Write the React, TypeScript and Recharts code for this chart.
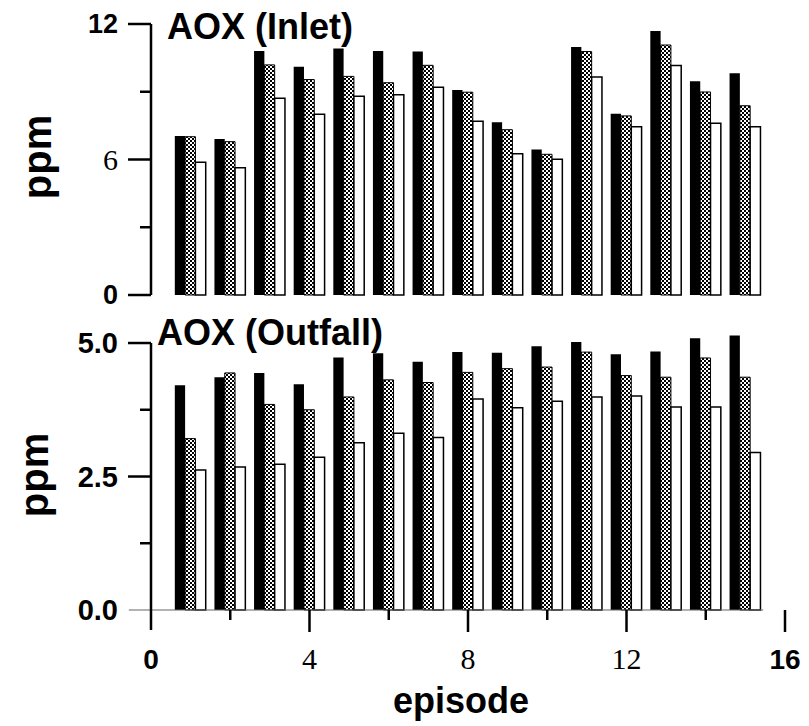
import React from "react";
import { BarChart, Bar, XAxis, YAxis, ReferenceLine } from "recharts";

const SANS = '"Liberation Sans", Arial, Helvetica, sans-serif';
const SERIF = '"Liberation Serif", "Times New Roman", serif';

const episodes = [1, 2, 3, 4, 5, 6, 7, 8, 9, 10, 11, 12, 13, 14, 15];

// AOX (Inlet), ppm
const inletBlack = [7.04, 6.91, 10.8, 10.11, 10.91, 10.8, 10.78, 9.08, 7.65, 6.44, 10.98, 8.03, 11.69, 9.46, 9.82];
const inletHatched = [7.01, 6.79, 10.19, 9.54, 9.68, 9.4, 10.17, 8.98, 7.32, 6.23, 10.78, 7.93, 11.07, 8.99, 8.38];
const inletWhite = [5.88, 5.64, 8.71, 8.0, 8.8, 8.87, 9.2, 7.69, 6.26, 6.01, 9.65, 7.45, 10.16, 7.6, 7.45];

// AOX (Outfall), ppm
const outfallBlack = [4.21, 4.36, 4.44, 4.23, 4.73, 4.81, 4.65, 4.83, 4.82, 4.94, 5.02, 4.79, 4.84, 5.09, 5.14];
const outfallHatched = [3.21, 4.44, 3.85, 3.75, 3.99, 4.31, 4.26, 4.45, 4.52, 4.55, 4.83, 4.39, 4.36, 4.72, 4.36];
const outfallWhite = [2.62, 2.68, 2.73, 2.86, 3.13, 3.31, 3.23, 3.95, 3.79, 3.91, 3.99, 4.01, 3.8, 3.8, 2.95];

const inletTicks = [0, 3, 6, 9, 12];
const inletTickLabels = ["0", "", "6", "", "12"];
const outfallTicks = [0, 1.25, 2.5, 3.75, 5];
const outfallTickLabels = ["0.0", "", "2.5", "", "5.0"];
const xTicks = [0, 2, 4, 6, 8, 10, 12, 14, 16];
const xTickLabels = ["0", "", "4", "", "8", "", "12", "", "16"];

const inletData = episodes.map((ep, i) => ({
  ep,
  black: inletBlack[i],
  hatched: inletHatched[i],
  white: inletWhite[i],
}));
const outfallData = episodes.map((ep, i) => ({
  ep,
  black: outfallBlack[i],
  hatched: outfallHatched[i],
  white: outfallWhite[i],
}));

// the scan mixes plain serif digits with bold sans ones
const serifLabels = ["4", "6", "8", "12x"];
const labelFont = (label: string, sansSize: number) =>
  serifLabels.includes(label)
    ? { fontFamily: SERIF, fontWeight: 400, fontSize: 30 }
    : { fontFamily: SANS, fontWeight: 700, fontSize: sansSize };

function makeYTick(ticks: number[], labels: string[], drawZero: boolean, sansSize: number) {
  return (props: any) => {
    const { x, y, payload } = props;
    const i = ticks.indexOf(payload.value);
    const label = labels[i] ?? "";
    const major = label !== "";
    const showLine = drawZero || payload.value !== 0;
    const font = labelFont(label, sansSize);
    return (
      <g>
        {showLine && (
          <line x1={x - (major ? 23 : 11)} x2={x} y1={y} y2={y} stroke="#000" strokeWidth={2.5} />
        )}
        {major && (
          <text x={x - 33} y={y + font.fontSize * 0.35} textAnchor="end" fill="#000" {...font}>
            {label}
          </text>
        )}
      </g>
    );
  };
}

function XTick(props: any) {
  const { x, y, payload } = props;
  const i = xTicks.indexOf(payload.value);
  const label = xTickLabels[i] ?? "";
  const major = label !== "";
  const font =
    label === "0" || label === "16"
      ? { fontFamily: SANS, fontWeight: 700, fontSize: 28 }
      : { fontFamily: SERIF, fontWeight: 400, fontSize: 30 };
  return (
    <g>
      {payload.value !== 0 && (
        <line x1={x} x2={x} y1={y} y2={y + (major ? 22 : 10)} stroke="#000" strokeWidth={2.5} />
      )}
      {major && (
        <text x={x} y={y + 59} textAnchor="middle" fill="#000" {...font}>
          {label}
        </text>
      )}
    </g>
  );
}

function Pattern() {
  return (
    <defs>
      <pattern id="checker" width={4} height={4} patternUnits="userSpaceOnUse">
        <rect width={4} height={4} fill="#000" />
        <rect x={0} y={0} width={2} height={2} fill="#fff" />
        <rect x={2} y={2} width={2} height={2} fill="#fff" />
      </pattern>
    </defs>
  );
}

const bars = () => [
  <Bar key="b" dataKey="black" fill="#000" isAnimationActive={false} />,
  <Bar key="h" dataKey="hatched" fill="url(#checker)" stroke="#000" strokeWidth={1} isAnimationActive={false} />,
  <Bar key="w" dataKey="white" fill="#fff" stroke="#000" strokeWidth={1.5} isAnimationActive={false} />,
];

export default function App() {
  return (
    <div style={{ position: "absolute", left: 0, top: 0, width: 809, height: 726, background: "#fff" }}>
      <div style={{ position: "absolute", left: 0, top: 0 }}>
        <BarChart
          width={809}
          height={310}
          data={inletData}
          margin={{ top: 24, right: 24, bottom: 15, left: 91 }}
          barGap={0}
          barSize={10.3}
        >
          <Pattern />
          <XAxis type="number" dataKey="ep" domain={[0, 16]} hide />
          <YAxis
            type="number"
            domain={[0, 12]}
            ticks={inletTicks}
            interval={0}
            width={60}
            tickSize={0}
            tickMargin={0}
            tickLine={false}
            axisLine={{ stroke: "#000", strokeWidth: 2.5 }}
            tick={makeYTick(inletTicks, inletTickLabels, true, 27)}
          />
          {bars()}
          <text x={167} y={39} fontFamily={SANS} fontWeight={700} fontSize={36} fill="#000">
            AOX (Inlet)
          </text>
          <text
            x={37}
            y={157}
            transform="rotate(-90 37 157)"
            textAnchor="middle"
            dominantBaseline="central"
            fontFamily={SANS}
            fontWeight={700}
            fontSize={40}
            fill="#000"
          >
            ppm
          </text>
        </BarChart>
      </div>
      <div style={{ position: "absolute", left: 0, top: 310 }}>
        <BarChart
          width={809}
          height={416}
          data={outfallData}
          margin={{ top: 17, right: 24, bottom: 0, left: 91 }}
          barGap={0}
          barSize={10.3}
        >
          <XAxis
            type="number"
            dataKey="ep"
            domain={[0, 16]}
            ticks={xTicks}
            interval={0}
            height={116}
            tickSize={0}
            tickMargin={0}
            tickLine={false}
            axisLine={false}
            tick={XTick}
          />
          <YAxis
            type="number"
            domain={[0, 5.3]}
            ticks={outfallTicks}
            interval={0}
            width={60}
            tickSize={0}
            tickMargin={0}
            tickLine={false}
            axisLine={false}
            tick={makeYTick(outfallTicks, outfallTickLabels, false, 29)}
          />
          <ReferenceLine
            segment={[{ x: -0.56, y: 0 }, { x: 15.45, y: 0 }]}
            stroke="#666"
            strokeWidth={1}
            ifOverflow="visible"
          />
          {bars()}
          <ReferenceLine
            segment={[{ x: 0, y: -0.375 }, { x: 0, y: 5 }]}
            stroke="#000"
            strokeWidth={2.5}
            ifOverflow="visible"
          />
          <text x={157} y={35} fontFamily={SANS} fontWeight={700} fontSize={36} fill="#000">
            AOX (Outfall)
          </text>
          <text
            x={34}
            y={165}
            transform="rotate(-90 34 165)"
            textAnchor="middle"
            dominantBaseline="central"
            fontFamily={SANS}
            fontWeight={700}
            fontSize={40}
            fill="#000"
          >
            ppm
          </text>
          <text x={461} y={403} textAnchor="middle" fontFamily={SANS} fontWeight={700} fontSize={36} fill="#000">
            episode
          </text>
        </BarChart>
      </div>
    </div>
  );
}
